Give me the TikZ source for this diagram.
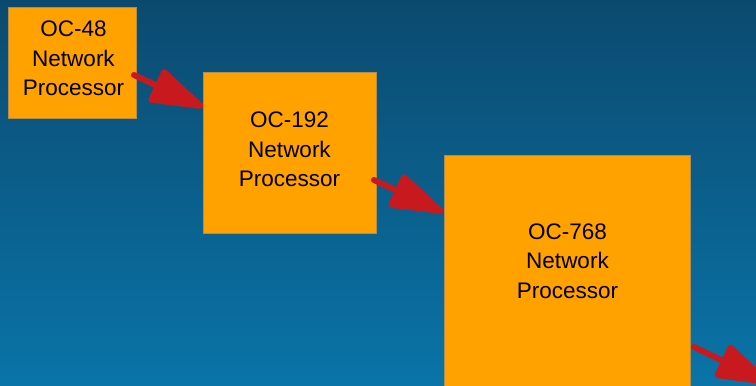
\documentclass[tikz,border=0pt]{standalone}
\usepackage{fontspec}
\setmainfont{Liberation Sans}
\usetikzlibrary{arrows.meta,calc}
\definecolor{bgtop}{HTML}{0B4A6F}
\definecolor{bgbot}{HTML}{0A74A8}
\definecolor{boxfill}{HTML}{FFA200}
\definecolor{boxline}{HTML}{B08C50}
\definecolor{arrred}{HTML}{C81A1E}
\begin{document}
\begin{tikzpicture}[x=1pt,y=-1pt,
  box/.style={draw=boxline, line width=0.8pt, fill=boxfill, inner sep=0pt, outer sep=0pt, anchor=north west},
  lbl/.style={font=\fontsize{22.5}{29.5}\selectfont, align=center, text=black, inner sep=0pt},
  conn/.style={draw=arrred, line width=6pt, line cap=round, -{Triangle[length=60pt,width=37pt,round]}}]
\useasboundingbox (0,0) rectangle (756,386);
\clip (0,0) rectangle (756,386);
\shade[top color=bgtop,bottom color=bgbot] (0,0) rectangle (756,386);
\node[box, minimum width=128pt, minimum height=111pt] (b1) at (8,7) {};
\node[box, minimum width=173pt, minimum height=161pt] (b2) at (203,72) {};
\node[box, minimum width=246pt, minimum height=265pt] (b3) at (444,155) {};
\node[lbl] (t1) at (73.5,58.7) {OC-48\\Network\\Processor};
\node[lbl] (t2) at (289.5,149.6) {OC-192\\Network\\Processor};
\node[lbl] (t3) at (567.5,261.2) {OC-768\\Network\\Processor};
\coordinate (e3) at (769,383);
\draw[conn] ($(b1.north east)+(-2,68)$) -- ($(b2.north west)+(0,35)$);
\draw[conn] ($(b2.north east)+(-2,108)$) -- ($(b3.north west)+(-1,57)$);
\draw[conn] ($(b3.north east)+(4,192)$) -- (e3);
\end{tikzpicture}
\end{document}
